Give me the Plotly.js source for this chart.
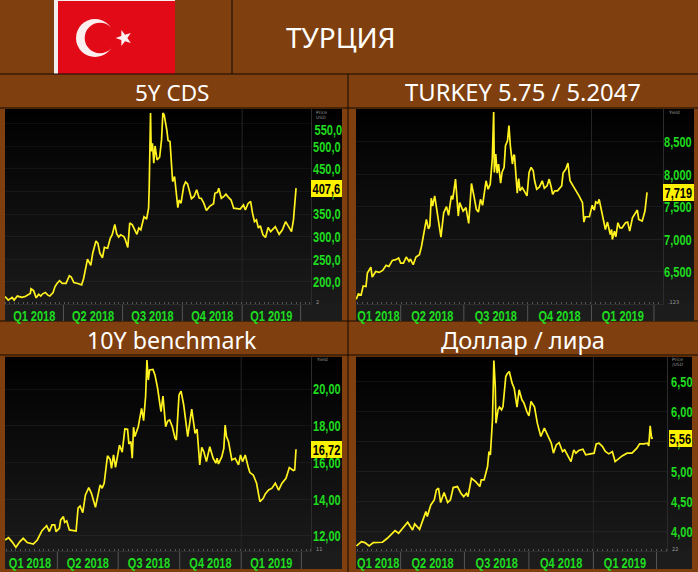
<!DOCTYPE html>
<html><head><meta charset="utf-8">
<script src="https://cdn.plot.ly/plotly-3.0.1.min.js"></script>
<style>html,body{margin:0;padding:0;background:#7F3F0E}#c{width:698px;height:572px}</style></head>
<body><div id="c"></div>
<script>
const pageTitle = "ТУРЦИЯ";
const panelTitles = ["5Y CDS", "TURKEY 5.75 / 5.2047", "10Y benchmark", "Доллар / лира"];
const quarterLabels = ["Q1 2018","Q2 2018","Q3 2018","Q4 2018","Q1 2019"];
const quarterStarts = ["2018-04-01","2018-07-01","2018-10-01","2019-01-01","2019-04-01"];

// days since 2018-01-01 and values
const cdsDays = [0,5,11,14,19,26,31,35,39,40,44,48,52,55,58,62,66,69,74,77,80,84,88,94,99,102,106,112,118,121,124,127,132,135,140,143,146,150,153,158,162,165,169,172,175,178,183,185,189,192,196,200,203,206,209,214,218,221,222,224,225,227,229,231,234,238,241,243,245,249,251,254,256,258,261,263,266,268,271,275,278,281,284,287,291,295,299,302,306,310,315,321,323,327,329,333,337,340,344,348,352,362,367,370,374,378,381,384,387,390,393,397,401,405,409,416,422,427,432,437,441,444,446,448];
const cdsVals = [167,159,165,159,168,165,167,170,174,184,180,164,172,168,173,176,170,168,176,189,196,202,196,196,213,210,198,196,193,207,233,250,236,263,290,285,263,253,276,274,296,304,327,306,299,304,300,294,276,330,326,313,305,319,315,344,339,363,411,574,489,507,463,501,470,476,515,574,570,537,513,511,463,422,433,400,364,381,374,411,421,417,400,384,389,404,385,385,374,358,367,373,396,398,407,385,389,394,387,381,363,361,370,359,373,378,352,333,337,319,324,304,298,320,311,322,305,315,333,322,311,337,374,407.6];

const bondDays = [26,29,33,36,40,42,47,49,54,59,64,69,73,78,83,87,90,94,98,102,104,108,112,117,120,124,127,130,132,134,136,139,143,148,152,156,159,163,165,169,173,175,180,184,188,192,196,199,202,205,208,213,216,219,222,224,225,227,229,231,234,236,239,241,244,246,248,251,253,254,258,260,262,265,268,272,275,278,281,283,286,290,294,297,301,304,307,309,312,316,322,324,328,331,334,336,338,342,347,352,354,356,362,366,369,371,374,376,380,383,385,388,392,394,395,398,400,403,406,409,414,417,420,424,428,431,433,438,442,445];
const bondVals = [6.077,6.16,6.144,6.283,6.273,6.479,6.572,6.418,6.505,6.49,6.52,6.598,6.582,6.675,6.686,6.711,6.634,6.634,6.727,6.66,6.696,6.608,6.727,6.763,6.892,7.149,7.304,7.16,7.201,7.629,7.51,7.665,7.356,7.031,7.407,7.5,7.366,7.665,7.613,7.923,7.356,7.562,7.433,7.485,7.242,7.856,7.639,7.459,7.418,7.613,7.521,7.897,7.768,7.845,8.232,8.954,8.026,8.309,8.015,8.155,7.861,8.026,8.103,8.438,8.515,8.747,8.438,8.155,8.299,8.284,7.706,7.933,7.742,7.794,7.742,7.665,8.026,8.103,8.052,7.897,7.768,7.804,7.897,7.784,7.82,7.923,7.794,7.691,7.742,7.742,7.82,8.015,8.077,8.17,7.897,7.861,7.845,7.768,7.665,7.562,7.263,7.345,7.345,7.521,7.448,7.572,7.552,7.613,7.407,7.263,7.149,7.263,7.072,7.149,6.995,7.124,7.036,7.253,7.175,7.175,7.253,7.263,7.124,7.33,7.407,7.448,7.304,7.278,7.433,7.719];

const tenYDays = [12,17,22,28,34,39,45,54,60,67,74,78,82,86,88,93,95,99,101,104,108,118,121,124,128,132,137,141,147,150,154,157,160,165,169,171,174,177,183,187,191,195,197,200,202,204,206,211,216,219,222,224,226,228,233,236,240,245,248,252,255,258,262,266,268,272,275,279,283,285,291,296,299,303,306,309,311,313,318,323,327,329,331,336,339,341,343,346,351,356,361,364,367,371,376,378,383,388,393,398,401,406,411,416,421,426,432,437,443,445,447];
const tenYVals = [11.78,11.91,11.69,11.38,11.69,11.87,11.64,11.56,11.78,12.29,12.56,12.24,12.6,12.6,12.24,12.42,12.87,13.05,12.74,12.82,12.33,12.27,13.51,13.63,13.27,14.23,14.63,14.32,13.56,14.05,14.78,14.6,14.87,16.36,16.17,15.68,16.41,15.74,16.95,16.56,17.83,17.81,17.01,17.14,16.23,17.92,17.41,17.95,18.95,18.28,19.59,21.58,20.49,21.04,21.07,20.77,20.04,18.77,19.62,17.95,18.26,18.32,17.95,17.32,17.23,19.68,19.89,19.13,17.77,17.41,18.9,17.59,17.81,15.87,16.83,16.59,16.32,16.05,16.86,16.23,15.96,16.23,15.92,16.32,16.77,18.04,17.41,17.14,16.14,16.23,15.87,16.41,16.05,16.41,15.68,15.45,15.32,14.87,13.87,14.05,14.29,14.5,14.6,14.87,14.5,14.87,15.14,15.72,15.56,15.59,16.72];

const fxDays = [27,31,34,39,45,51,57,64,71,76,82,87,91,100,107,110,117,122,126,128,133,138,141,144,147,152,157,161,165,171,176,180,184,186,191,197,203,205,209,214,216,218,221,223,225,226,229,231,234,236,240,242,245,249,252,256,259,263,266,270,273,276,281,285,290,295,300,305,308,312,316,321,324,329,333,337,340,344,350,354,359,366,369,373,378,382,387,392,396,401,406,413,420,427,431,437,442,444,446,448,450];
const fxVals = [3.754,3.788,3.827,3.81,3.754,3.81,3.816,3.816,3.883,3.939,4.011,3.967,4.022,4.151,4.022,4.123,4.033,4.218,4.329,4.246,4.441,4.525,4.692,4.72,4.48,4.647,4.48,4.525,4.731,4.748,4.636,4.58,4.636,4.58,4.887,4.831,4.748,4.859,4.859,5.083,5.334,5.278,5.864,6.857,6.422,5.808,6.031,6.076,6.031,6.087,6.589,6.634,6.673,6.478,6.394,6.076,6.366,6.199,6.143,6.003,5.931,6.171,6.076,5.808,5.585,5.724,5.585,5.473,5.306,5.445,5.484,5.334,5.362,5.25,5.166,5.362,5.306,5.35,5.373,5.278,5.295,5.306,5.462,5.473,5.417,5.334,5.295,5.334,5.166,5.222,5.261,5.306,5.306,5.39,5.462,5.462,5.473,5.429,5.763,5.557,5.56];

const cdsTicks = [200,250,300,350,400,450,500,550];
const cdsTickText = ["200,0","250,0","300,0","350,0","400,0","450,0","500,0",""];
const bondTicks = [6.5,7,7.5,8,8.5];
const bondTickText = ["6,500","7,000","7,500","8,000","8,500"];
const tenYTicks = [12,14,16,18,20];
const tenYTickText = ["12,00","14,00","16,00","18,00","20,00"];
const fxTicks = [4,4.5,5,5.5,6,6.5];
const fxTickText = ["4,00","4,50","5,00","5,50","6,00","6,50"];

const W = 698, H = 572;
const BROWN = "#7F3F0E", YELLOW = "#FFF21E", GREEN = "#1FDC1F";
const NARROW = "'Liberation Sans',sans-serif";
const SMALL = "'DejaVu Sans',sans-serif";
const HEAD = "'Noto Sans',sans-serif";
const NUMSIZE = 15.5;
const CONDENSE = 0.71;
const px = x => x / W, py = y => 1 - y / H;
const day = d => new Date(Date.UTC(2018, 0, 1) + d * 864e5).toISOString().slice(0, 19).replace("T", " ");

const panels = [
 {days:cdsDays, vals:cdsVals, ticks:cdsTicks, text:cdsTickText, left:5, axis:311, imgR:342, top:109, bot:304, imgB:321, start:0, end:471, yr:[150.4,583], q1:45, last:"407,6", lastY:407.4, standoff:-2, lblR:342, small:["Price","USD"], smallB:"2", extra:{t:"550,0", y:538.5}},
 {days:bondDays, vals:bondVals, ticks:bondTicks, text:bondTickText, left:356, axis:663, imgR:694, top:109, bot:304, imgB:321, start:25.6, end:468, yr:[6.005,9.0], q1:58, last:"7,719", lastY:7.72, standoff:-3, lblR:694, small:["Yield"], smallB:".123"},
 {days:tenYDays, vals:tenYVals, ticks:tenYTicks, text:tenYTickText, left:5, axis:311, imgR:342, top:356.7, bot:551, imgB:569, start:11.7, end:469.4, yr:[11.18,21.76], q1:49, last:"16,72", lastY:16.72, standoff:-2, lblR:342, small:["Yield"], smallB:"11"},
 {days:fxDays, vals:fxVals, ticks:fxTicks, text:fxTickText, left:356, axis:667, imgR:692, top:356.7, bot:551, imgB:569, start:26.3, end:470, yr:[3.67,6.92], q1:58, last:"5,56", lastY:5.557, standoff:0, lblR:692, small:["Price","/USD"], smallB:"22"}
];

const data = [], shapes = [], annotations = [];
const layout = {width:W, height:H, autosize:false, margin:{l:0,r:0,t:0,b:0}, paper_bgcolor:BROWN, plot_bgcolor:"rgba(0,0,0,0)", showlegend:false, shapes, annotations};
const rect = (x0,y0,x1,y1,fill) => shapes.push({type:"rect", layer:"below", xref:"paper", yref:"paper", x0:px(x0), x1:px(x1), y0:py(y0), y1:py(y1), fillcolor:fill, line:{width:0}});
const hline = (x0,x1,y) => shapes.push({type:"line", layer:"below", xref:"paper", yref:"paper", x0:px(x0), x1:px(x1), y0:py(y), y1:py(y), line:{color:"#120a03", width:1}});
const vline = (x,y0,y1) => shapes.push({type:"line", layer:"below", xref:"paper", yref:"paper", x0:px(x), x1:px(x), y0:py(y0), y1:py(y1), line:{color:"#120a03", width:1}});
const textAt = (t,x,y,size,color,fam,extra) => annotations.push(Object.assign({text:t, xref:"paper", yref:"paper", x:px(x), y:py(y), showarrow:false, xanchor:"center", yanchor:"middle", font:{size, color, family:fam}}, extra||{}));

// flag
rect(54,0,175,74,"#F4EFEF");
rect(58,1,175,74,"#E30A17");
const circle = (cx,cy,r,fill) => shapes.push({type:"circle", layer:"below", xref:"paper", yref:"paper", x0:px(cx-r), x1:px(cx+r), y0:py(cy+r), y1:py(cy-r), fillcolor:fill, line:{width:0}});
circle(95,38,19,"#FBEFEF");
circle(100,38,15.3,"#E30A17");
let star = "";
for (let i=0;i<10;i++){const r=i%2?3.4:8.4,a=-Math.PI/2+i*Math.PI/5-Math.PI/2;
  star += (i?"L":"M")+px(124+r*Math.cos(a))+" "+py(38+r*Math.sin(a))+" ";}
shapes.push({type:"path", layer:"below", xref:"paper", yref:"paper", path:star+"Z", fillcolor:"#FBEFEF", line:{width:0}});

// frame lines
hline(0,698,74); hline(0,698,108); hline(0,698,321); hline(0,698,355);
vline(232,0,74); vline(348,74,572);

textAt(pageTitle,341,37,28,"#FFFFFF",HEAD);
[[172,92,22.5],[523,92,23.8],[172,340,23.2],[523,340,23.7]].forEach((p,i)=>textAt(panelTitles[i],p[0],p[1],p[2],"#FFFFFF",HEAD));

panels.forEach((p,i)=>{
  const n = i? String(i+1):"";
  const steps = 28;
  for(let s=0;s<steps;s++){
    const g = Math.round(1 + 27*s/(steps-1));
    rect(p.left, p.top + (p.imgB-p.top)*s/steps, p.imgR, p.imgB, `rgb(${g},${g},${g})`);
  }
  rect(p.left, p.bot, p.imgR, p.imgB, "#1C1C1C");
  shapes.push({type:"line", layer:"below", xref:"x"+n, yref:"paper", x0:"2019-01-01", x1:"2019-01-01", y0:py(p.bot), y1:py(p.top), line:{color:"#262626", width:1}});
  quarterStarts.forEach(q=>shapes.push({type:"line", layer:"below", xref:"x"+n, yref:"paper", x0:q, x1:q, y0:py(p.imgB), y1:py(p.bot), line:{color:"#555555", width:1}}));
  data.push({type:"scatter", mode:"lines", x:p.days.map(day), y:p.vals, xaxis:"x"+n, yaxis:"y"+n, line:{color:YELLOW, width:1.7}, hoverinfo:"skip"});
  const mids = [p.q1,135.5,227,319,410].map(day);
  layout["xaxis"+n] = {type:"date", domain:[px(p.left),px(p.axis)], range:[day(p.start),day(p.end)], anchor:"y"+n,
    tickmode:"array", tickvals:mids, ticktext:quarterLabels, ticklen:0, showgrid:false, zeroline:false,
    showline:true, linecolor:"#2c2c2c", linewidth:1, tickangle:0, ticklabelstandoff:-3,
    tickfont:{family:NARROW, size:NUMSIZE, color:GREEN, weight:700},
    minor:{ticks:"inside", ticklen:2, tickcolor:"#555555", tickwidth:1, dtick:7*864e5, tick0:"2018-01-01", showgrid:false}};
  layout["yaxis"+n] = {domain:[py(p.bot),py(p.top)], range:p.yr, anchor:"x"+n, side:"right",
    tickmode:"array", tickvals:p.ticks, ticktext:p.text, ticklen:0, ticklabelstandoff:p.standoff,
    showgrid:true, gridcolor:"rgba(255,255,255,0.05)", gridwidth:1, zeroline:false, showline:true, linecolor:"#2c2c2c", linewidth:1,
    tickfont:{family:NARROW, size:NUMSIZE, color:GREEN, weight:700}};
  if(p.extra) annotations.push({text:p.extra.t, xref:"paper", yref:"y"+n, x:px(p.axis-3), y:p.extra.y, xanchor:"left", yanchor:"middle", showarrow:false, borderpad:0, font:{family:NARROW,size:NUMSIZE,color:GREEN,weight:700}});
  annotations.push({text:p.last, xref:"paper", yref:"y"+n, x:px(p.lblR), y:p.lastY, xanchor:"right", yanchor:"middle", showarrow:false, bgcolor:"#FFF200", borderpad:0, borderwidth:0,
     width:p.last.length>4?31:23, height:17, align:"center", font:{family:NARROW,size:NUMSIZE,color:"#000000",weight:700}});
  p.small.forEach((t,k)=>textAt(t,p.axis+3,p.top+3+k*5,4.5,"#9a9a9a",SMALL,{xanchor:"left"}));
  textAt(p.smallB,p.axis+3,p.bot-2,5,"#9a9a9a",SMALL,{xanchor:"left"});
});

// The reference uses a condensed bold face: condense the glyphs of the real text.
Plotly.newPlot("c", data, layout, {displayModeBar:false, staticPlot:true}).then(gd=>{
  gd.querySelectorAll("text").forEach(t=>{
    const w = String(t.style.fontWeight);
    if(w==="700"||w==="bold"){
      t.setAttribute("textLength", (t.getComputedTextLength()*CONDENSE).toFixed(2));
      t.setAttribute("lengthAdjust","spacingAndGlyphs");
    }
  });
});
</script></body></html>
